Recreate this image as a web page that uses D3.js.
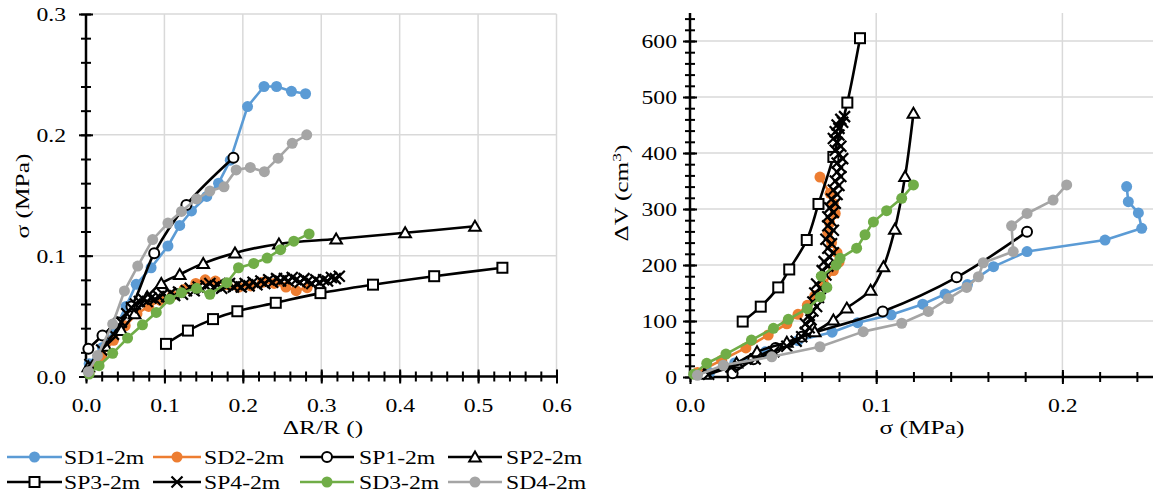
<!DOCTYPE html>
<html><head><meta charset="utf-8">
<script src="https://cdn.jsdelivr.net/npm/d3@7"></script>
<style>html,body{margin:0;padding:0;background:#fff;overflow:hidden}</style>
</head><body><svg id="c" width="1153" height="495"></svg>
<script>
// ---------- DATA (left chart: [ΔR/R, σ]) ----------
const SD1_L = [[0.004,0.0105],[0.021,0.024],[0.038,0.0405],[0.051,0.058],[0.064,0.0763],[0.083,0.090],[0.1045,0.108],[0.1195,0.125],[0.1345,0.137],[0.154,0.149],[0.169,0.160],[0.184,0.179],[0.206,0.2234],[0.227,0.240],[0.243,0.240],[0.262,0.236],[0.280,0.234]];
const SD2_L = [[0.004,0.004],[0.02,0.017],[0.035,0.03],[0.05,0.042],[0.065,0.052],[0.08,0.058],[0.095,0.063],[0.11,0.067],[0.125,0.072],[0.14,0.077],[0.152,0.080],[0.165,0.079],[0.18,0.076],[0.195,0.074],[0.21,0.075],[0.225,0.078],[0.24,0.077],[0.255,0.074],[0.268,0.071],[0.282,0.0735]];
const SP1_L = [[0.003,0.023],[0.021,0.034],[0.040,0.045],[0.058,0.058],[0.087,0.102],[0.128,0.142],[0.188,0.181]];
const SP2_L = [[0.003,0.008],[0.025,0.025],[0.045,0.038],[0.062,0.052],[0.078,0.066],[0.096,0.077],[0.1195,0.0845],[0.1495,0.0936],[0.190,0.1023],[0.246,0.1097],[0.319,0.1138],[0.407,0.1189],[0.496,0.1243]];
const SP3_L = [[0.102,0.027],[0.130,0.038],[0.162,0.0475],[0.193,0.054],[0.242,0.061],[0.299,0.069],[0.366,0.076],[0.444,0.083],[0.531,0.090]];
const SP4_L = [[0.005,0.01],[0.02,0.022],[0.035,0.035],[0.045,0.045],[0.052,0.052],[0.058,0.057],[0.063,0.06],[0.068,0.062],[0.073,0.064],[0.078,0.062],[0.083,0.065],[0.088,0.064],[0.093,0.066],[0.098,0.068],[0.103,0.066],[0.108,0.069],[0.113,0.067],[0.118,0.070],[0.123,0.068],[0.128,0.071],[0.133,0.073],[0.138,0.071],[0.143,0.074],[0.148,0.072],[0.153,0.075],[0.158,0.077],[0.163,0.074],[0.168,0.076],[0.173,0.073],[0.178,0.075],[0.183,0.077],[0.188,0.074],[0.193,0.076],[0.198,0.074],[0.203,0.077],[0.208,0.075],[0.213,0.078],[0.218,0.076],[0.223,0.079],[0.228,0.077],[0.233,0.080],[0.238,0.078],[0.243,0.081],[0.248,0.079],[0.253,0.081],[0.258,0.079],[0.263,0.082],[0.268,0.080],[0.273,0.078],[0.278,0.081],[0.283,0.079],[0.288,0.077],[0.293,0.080],[0.298,0.078],[0.303,0.080],[0.308,0.079],[0.313,0.082],[0.318,0.081],[0.323,0.083]];
const SD3_L = [[0.004,0.002],[0.0167,0.009],[0.034,0.0192],[0.053,0.0318],[0.072,0.0428],[0.0896,0.053],[0.1067,0.064],[0.1217,0.0694],[0.141,0.073],[0.158,0.068],[0.1796,0.0776],[0.1945,0.090],[0.2138,0.0936],[0.231,0.098],[0.248,0.105],[0.265,0.112],[0.2845,0.118]];
const SD4_L = [[0.003,0.004],[0.0146,0.0173],[0.034,0.0434],[0.049,0.0708],[0.066,0.0914],[0.085,0.1133],[0.1045,0.127],[0.1217,0.1366],[0.141,0.147],[0.158,0.1535],[0.176,0.157],[0.1915,0.171],[0.2095,0.173],[0.2275,0.1695],[0.245,0.1807],[0.263,0.193],[0.2815,0.200]];

// ---------- DATA (right chart: [σ, ΔV]) ----------
const SD1_R = [[0.0105,8],[0.024,25],[0.0405,45],[0.058,65],[0.0763,80],[0.090,97],[0.108,111],[0.125,130],[0.137,148],[0.149,165],[0.163,197],[0.181,224],[0.2229,244.6],[0.2426,265.5],[0.2408,293],[0.2354,313],[0.2345,340]];
const SD2_R = [[0.004,8],[0.017,30],[0.030,52],[0.042,75],[0.052,95],[0.058,112],[0.063,128],[0.067,145],[0.072,165],[0.077,190],[0.080,205],[0.079,222],[0.076,240],[0.074,258],[0.075,275],[0.078,292],[0.077,310],[0.0752,328],[0.0698,357]];
const SP1_R = [[0.0229,6.5],[0.034,31.5],[0.046,52],[0.060,72],[0.1035,117],[0.1432,178],[0.181,259.5]];
const SP2_R = [[0.008,5],[0.025,25],[0.036,45],[0.052,62],[0.067,81],[0.077,102],[0.0842,123],[0.097,155],[0.1039,197],[0.110,264],[0.1155,358],[0.120,471]];
const SP3_R = [[0.0283,99],[0.038,125.6],[0.0474,160],[0.0533,192],[0.0627,244.6],[0.069,309],[0.077,393],[0.0845,490],[0.0913,605]];
const SP4_R = [[0.01,5],[0.022,18],[0.035,32],[0.045,45],[0.052,55],[0.057,64],[0.06,72],[0.062,80],[0.064,88],[0.062,95],[0.065,102],[0.064,110],[0.066,118],[0.068,126],[0.066,134],[0.069,142],[0.067,150],[0.070,158],[0.068,166],[0.071,174],[0.073,182],[0.071,190],[0.074,198],[0.072,206],[0.075,214],[0.077,222],[0.074,230],[0.076,238],[0.073,246],[0.075,254],[0.077,262],[0.074,270],[0.076,278],[0.074,286],[0.077,294],[0.075,302],[0.078,310],[0.076,318],[0.079,326],[0.077,334],[0.080,342],[0.078,350],[0.081,358],[0.079,366],[0.081,374],[0.079,382],[0.082,390],[0.080,398],[0.078,405],[0.081,412],[0.079,419],[0.077,426],[0.080,432],[0.078,438],[0.080,444],[0.079,450],[0.082,455],[0.081,460],[0.083,465]];
const SD3_R = [[0.002,5],[0.009,24.5],[0.0193,41],[0.033,66],[0.0448,87],[0.0528,103],[0.063,122],[0.0700,143],[0.0735,160],[0.0705,180],[0.0785,200],[0.0806,212],[0.0895,230],[0.094,254],[0.0985,277],[0.1056,297],[0.1137,319],[0.120,343]];
const SD4_R = [[0.004,3],[0.0179,21],[0.0439,36],[0.0698,54],[0.093,81],[0.1137,96],[0.128,117],[0.1388,140],[0.1486,160],[0.1549,179],[0.1575,204],[0.1736,224],[0.1727,270],[0.181,292],[0.195,316],[0.2023,343]];

// ---------- ticks / labels ----------
const L_XTICKS = [0,0.1,0.2,0.3,0.4,0.5,0.6];
const L_YTICKS = [0,0.1,0.2,0.3];
const R_XTICKS = [0,0.1,0.2];
const R_YTICKS = [0,100,200,300,400,500,600];
const NAMES = ['SD1-2m','SD2-2m','SP1-2m','SP2-2m','SP3-2m','SP4-2m','SD3-2m','SD4-2m'];

const FONT = "'Liberation Serif','Times New Roman',Times,serif";
const FS = 18.5, SX = 1.28, TFS = 19.5, TSX = 1.3;
const svg = d3.select('#c');

const SERIES = [
  {name:NAMES[0], m:'dot', c:'#5B9BD5', L:SD1_L, R:SD1_R, smooth:false},
  {name:NAMES[1], m:'dot', c:'#ED7D31', L:SD2_L, R:SD2_R, smooth:false},
  {name:NAMES[2], m:'ocircle', c:'#000', L:SP1_L, R:SP1_R, smooth:true},
  {name:NAMES[3], m:'tri', c:'#000', L:SP2_L, R:SP2_R, smooth:true},
  {name:NAMES[4], m:'sq', c:'#000', L:SP3_L, R:SP3_R, smooth:true},
  {name:NAMES[5], m:'x', c:'#000', L:SP4_L, R:SP4_R, smooth:false},
  {name:NAMES[6], m:'dot', c:'#70AD47', L:SD3_L, R:SD3_R, smooth:false},
  {name:NAMES[7], m:'dot', c:'#A5A5A5', L:SD4_L, R:SD4_R, smooth:false},
];

function txt(g, x, y, str, anchor, rot, fs, sx) {
  fs = fs || FS; sx = sx || SX;
  return g.append('text')
    .attr('transform', `translate(${x},${y})` + (rot ? ' rotate(-90)' : '') + ` scale(${sx},1)`)
    .attr('text-anchor', anchor).attr('font-family', FONT).attr('font-size', fs).attr('fill', '#000')
    .text(str);
}

function marker(g, type, color, cx, cy) {
  const m = g.append('g').attr('transform', `translate(${cx},${cy})`);
  if (type === 'dot') m.append('circle').attr('r', 5.5).attr('fill', color);
  else if (type === 'ocircle') m.append('circle').attr('r', 5).attr('fill', '#fff').attr('stroke', '#000').attr('stroke-width', 2);
  else if (type === 'tri') m.append('path').attr('d', 'M0,-5.5L5.8,4.5L-5.8,4.5Z').attr('fill', '#fff').attr('stroke', '#000').attr('stroke-width', 2);
  else if (type === 'sq') m.append('rect').attr('x', -5).attr('y', -5).attr('width', 10).attr('height', 10).attr('fill', '#fff').attr('stroke', '#000').attr('stroke-width', 2);
  else if (type === 'x') {
    m.append('path').attr('d', 'M-5.5,-5.5L5.5,5.5M-5.5,5.5L5.5,-5.5').attr('stroke', '#000').attr('stroke-width', 2.2).attr('fill', 'none');
  }
}

function chart(cfg) {
  const {x, y, xMajor, xMinor, yMajor, yMinor, xFmt, yFmt, key} = cfg;
  const g = svg.append('g');
  const [x0, x1] = x.range(); const [y0, y1] = y.range();
  // grid
  g.append('g').selectAll('line').data(xMajor.filter(d => d > 0)).join('line')
    .attr('x1', d => x(d)).attr('x2', d => x(d)).attr('y1', y0).attr('y2', y1)
    .attr('stroke', '#D9D9D9').attr('stroke-width', 1.5);
  g.append('g').selectAll('line').data(yMajor.filter(d => d > 0)).join('line')
    .attr('x1', x0).attr('x2', x1).attr('y1', d => y(d)).attr('y2', d => y(d))
    .attr('stroke', '#D9D9D9').attr('stroke-width', 1.5);

  // x axis
  const gxm = g.append('g').attr('transform', `translate(0,${y0})`)
    .call(d3.axisBottom(x).tickValues(xMinor).tickSizeOuter(0).tickFormat(''));
  gxm.select('.domain').remove();
  gxm.selectAll('.tick line').attr('y1', -5).attr('y2', 5).attr('stroke', '#000').attr('stroke-width', 2);
  const gx = g.append('g').attr('transform', `translate(0,${y0})`)
    .call(d3.axisBottom(x).tickValues(xMajor).tickSizeOuter(0).tickFormat(xFmt));
  gx.select('.domain').remove();
  gx.attr('font-family', FONT).attr('font-size', FS);
  gx.selectAll('.tick line').attr('y1', -7).attr('y2', 7).attr('stroke', '#000').attr('stroke-width', 2);
  gx.selectAll('.tick text').attr('y', null).attr('dy', null).attr('fill', '#000')
    .attr('transform', `translate(0,${cfg.xLabBase - y0}) scale(${SX},1)`);

  // y axis
  const gym = g.append('g').attr('transform', `translate(${x0},0)`)
    .call(d3.axisLeft(y).tickValues(yMinor).tickSizeOuter(0).tickFormat(''));
  gym.select('.domain').remove();
  gym.selectAll('.tick line').attr('x1', -5).attr('x2', 5).attr('stroke', '#000').attr('stroke-width', 2);
  const gy = g.append('g').attr('transform', `translate(${x0},0)`)
    .call(d3.axisLeft(y).tickValues(yMajor).tickSizeOuter(0).tickFormat(yFmt));
  gy.select('.domain').remove();
  gy.attr('font-family', FONT).attr('font-size', FS);
  gy.selectAll('.tick line').attr('x1', -7).attr('x2', 7).attr('stroke', '#000').attr('stroke-width', 2);
  gy.selectAll('.tick text').attr('x', null).attr('dy', null).attr('fill', '#000')
    .attr('transform', `translate(${cfg.yLabRight - x0},6.5) scale(${SX},1)`);

  g.append('line').attr('x1', x0).attr('x2', x1).attr('y1', y0).attr('y2', y0).attr('stroke', '#000').attr('stroke-width', 2.5);
  g.append('line').attr('x1', x0).attr('x2', x0).attr('y1', y0).attr('y2', y1).attr('stroke', '#000').attr('stroke-width', 2.5);

  // series
  SERIES.forEach(s => {
    const data = s[key];
    const line = d3.line().x(d => x(d[0])).y(d => y(d[1]))
      .curve(s.smooth ? d3.curveCatmullRom.alpha(0.5) : d3.curveLinear);
    g.append('path').attr('d', line(data)).attr('fill', 'none').attr('stroke', s.c)
      .attr('stroke-width', 2.6).attr('stroke-linejoin', 'round');
    const mg = g.append('g');
    data.forEach(d => marker(mg, s.m, s.c, x(d[0]), y(d[1])));
  });
  return g;
}

// left chart
const xL = d3.scaleLinear().domain([0, 0.6]).range([86, 556.5]);
const yL = d3.scaleLinear().domain([0, 0.3]).range([376.5, 14]);
const gL = chart({x: xL, y: yL, key: 'L',
  xMajor: L_XTICKS, xMinor: d3.range(0, 0.601, 0.02), yMajor: L_YTICKS, yMinor: d3.range(0, 0.301, 0.02),
  xFmt: d3.format('.1f'), yFmt: d3.format('.1f'), xLabBase: 411.5, yLabRight: 66});
txt(gL, 323, 434, 'ΔR/R ()', 'middle', false, TFS, TSX);
txt(gL, 29, 196, 'σ (MPa)', 'middle', true, TFS, TSX);

// right chart
const xR = d3.scaleLinear().domain([0, 0.25]).range([690, 1155.5]);
const yR = d3.scaleLinear().domain([0, 650]).range([377, 13]);
const gR = chart({x: xR, y: yR, key: 'R',
  xMajor: R_XTICKS, xMinor: d3.range(0, 0.2401, 0.02), yMajor: R_YTICKS, yMinor: d3.range(0, 641, 20),
  xFmt: d3.format('.1f'), yFmt: d3.format('d'), xLabBase: 411.5, yLabRight: 677});
txt(gR, 922, 434, 'σ (MPa)', 'middle', false, TFS, TSX);
const vt = txt(gR, 628, 193, '', 'middle', true, TFS, TSX);
vt.append('tspan').text('ΔV (cm');
vt.append('tspan').attr('dy', -7).attr('font-size', 13.5).text('3');
vt.append('tspan').attr('dy', 7).text(')');

// legend
const LEG_COLS = [[7, 62, 64], [153, 201, 204], [300, 354, 359], [448, 502, 506]];
const LEG_ROWS = [457, 482];
const lg = svg.append('g');
SERIES.forEach((s, i) => {
  const col = LEG_COLS[i % 4], ry = LEG_ROWS[Math.floor(i / 4)];
  lg.append('line').attr('x1', col[0]).attr('x2', col[1]).attr('y1', ry).attr('y2', ry)
    .attr('stroke', s.c).attr('stroke-width', 2.6);
  marker(lg, s.m, s.c, (col[0] + col[1]) / 2, ry);
  txt(lg, col[2], ry + 6.5, s.name, 'start');
});
</script></body></html>
